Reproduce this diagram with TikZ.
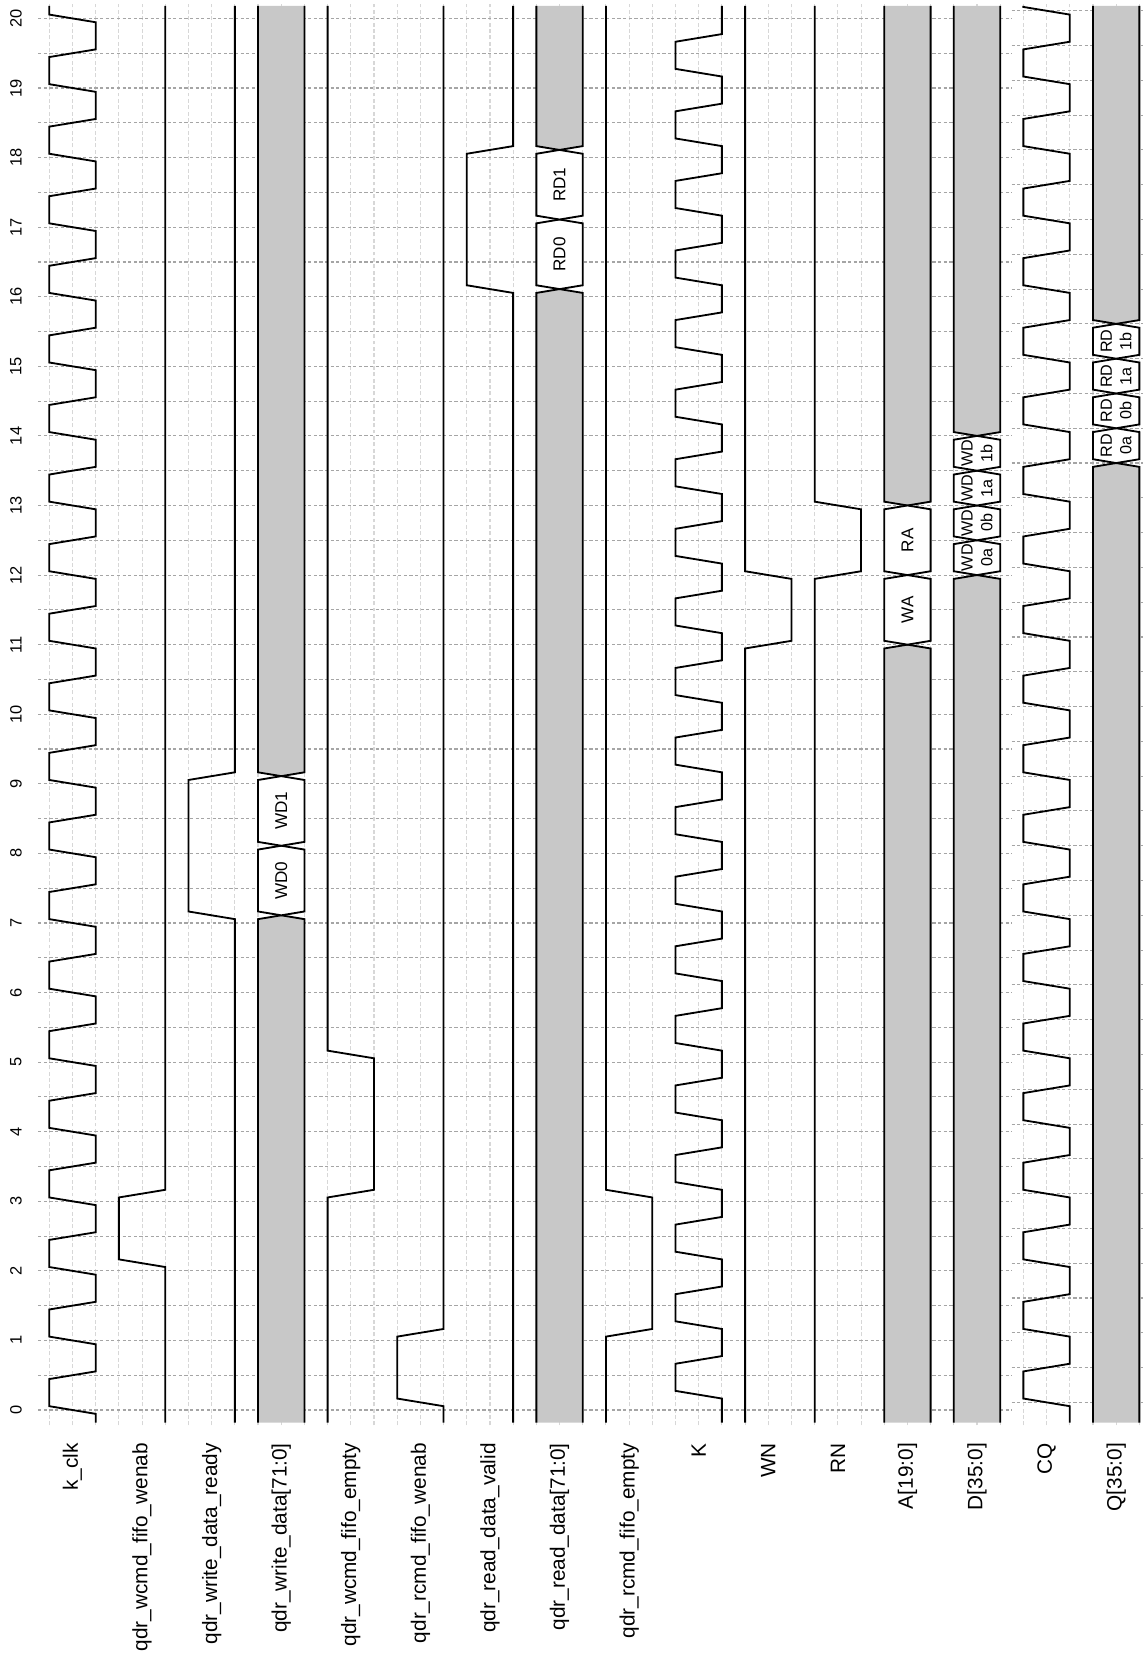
\documentclass[tikz,border=0pt]{standalone}
\usepackage{fontspec}
\setmainfont{Liberation Sans}
\definecolor{busgray}{RGB}{200,200,200}
\begin{document}
\begin{tikzpicture}[
        wave/.style={
            line width=0.75pt,
            draw=black
        },
        idle/.style={
            fill=busgray
        },
        hgrid/.style={
            draw={rgb,255:red,165; green,165; blue,165},
            line width=0.45pt,
            dash pattern=on 1.3pt off 1pt
        },
        vgrid/.style={
            draw={rgb,255:red,215; green,215; blue,215},
            line width=0.45pt,
            dash pattern=on 1.6pt off 1pt
        },
        signame/.style={
            rotate=90,
            anchor=east,
            inner sep=0pt,
            font=\fontsize{8.5}{10}\selectfont
        },
        timelabel/.style={
            rotate=90,
            inner sep=0pt,
            font=\fontsize{6.7}{8}\selectfont
        },
        buslabel/.style={
            rotate=90,
            inner sep=0pt,
            align=center,
            font=\fontsize{7}{8}\selectfont
        },
        halflabel/.style={
            rotate=90,
            inner sep=0pt,
            align=center,
            font=\fontsize{6.6}{8}\selectfont
        }
    ]
        \useasboundingbox (-0.7085,-3.564) rectangle (15.7185,20.265);

        % Grid
        \foreach \x in {0,...,47}
            \draw[vgrid] (\x/3,-0.22) -- (\x/3,20.23);
        \foreach \t in {0,0.5,...,20} {
            \draw[hgrid] (-0.16,\t) -- (13.83,\t);
            \draw[hgrid] (13.83,\t+0.11) -- (15.72,\t+0.11);
        }

        % Time markers
        \foreach \t in {0,...,20}
            \node[timelabel] (time\t) at (-0.48,\t) {\t};

        % Signal names
        \foreach \i/\nm/\txt in {0/kclk/k\_clk, 1/wenab/qdr\_wcmd\_fifo\_wenab,
            2/wready/qdr\_write\_data\_ready, 3/wdata/qdr\_write\_data[71:0],
            4/wempty/qdr\_wcmd\_fifo\_empty, 5/renab/qdr\_rcmd\_fifo\_wenab,
            6/rvalid/qdr\_read\_data\_valid, 7/rdata/qdr\_read\_data[71:0],
            8/rempty/qdr\_rcmd\_fifo\_empty, 9/K/K, 10/WN/WN, 11/RN/RN,
            12/A/A[19:0], 13/D/D[35:0], 14/CQ/CQ, 15/Q/Q[35:0]}
            \node[signame] (sig-\nm) at (\i+1/3,-0.47) {\txt};

        % ============== Controller side ==============
        % k_clk
        \draw[wave] (2/3,-0.18) foreach \k in {0,...,19} {
            -- (2/3,\k-0.055) -- (0,\k+0.055) -- (0,\k+0.445) -- (2/3,\k+0.555)
        } -- (2/3,19.945) -- (0,20.055) -- (0,20.18);

        % qdr_wcmd_fifo_wenab
        \draw[wave] (5/3,-0.18) -- (5/3,2.055) -- (1,2.165) -- (1,3.055) -- (5/3,3.165) -- (5/3,20.18);

        % qdr_write_data_ready
        \draw[wave] (8/3,-0.18) -- (8/3,7.055) -- (2,7.165) -- (2,9.055) -- (8/3,9.165) -- (8/3,20.18);

        % qdr_write_data[71:0]
        \begin{scope}[xshift=3cm]
            \fill[idle] (0,-0.18) -- (0,7.055) -- (1/3,7.11) -- (2/3,7.055) -- (2/3,-0.18) -- cycle;
            \fill[idle] (0,20.18) -- (0,9.165) -- (1/3,9.11) -- (2/3,9.165) -- (2/3,20.18) -- cycle;
            \draw[wave] (0,-0.18) -- (0,7.055) -- (1/3,7.11) -- (2/3,7.055) -- (2/3,-0.18);
            \draw[wave] (0,20.18) -- (0,9.165) -- (1/3,9.11) -- (2/3,9.165) -- (2/3,20.18);
            \foreach \a/\b/\nm in {7.11/8.11/0, 8.11/9.11/1}
                \draw[wave, fill=white] (1/3,\a) -- (0,\a+0.055) -- (0,\b-0.055) -- (1/3,\b)
                    -- (2/3,\b-0.055) -- (2/3,\a+0.055) -- cycle
                    node[buslabel] (wd\nm) at (1/3,{(\a+\b)/2}) {WD\nm};
        \end{scope}

        % qdr_wcmd_fifo_empty
        \draw[wave] (4,-0.18) -- (4,3.055) -- (14/3,3.165) -- (14/3,5.055) -- (4,5.165) -- (4,20.18);

        % qdr_rcmd_fifo_wenab
        \draw[wave] (17/3,-0.18) -- (17/3,0.055) -- (5,0.165) -- (5,1.055) -- (17/3,1.165) -- (17/3,20.18);

        % qdr_read_data_valid
        \draw[wave] (20/3,-0.18) -- (20/3,16.055) -- (6,16.165) -- (6,18.055) -- (20/3,18.165) -- (20/3,20.18);

        % qdr_read_data[71:0]
        \begin{scope}[xshift=7cm]
            \fill[idle] (0,-0.18) -- (0,16.055) -- (1/3,16.11) -- (2/3,16.055) -- (2/3,-0.18) -- cycle;
            \fill[idle] (0,20.18) -- (0,18.165) -- (1/3,18.11) -- (2/3,18.165) -- (2/3,20.18) -- cycle;
            \draw[wave] (0,-0.18) -- (0,16.055) -- (1/3,16.11) -- (2/3,16.055) -- (2/3,-0.18);
            \draw[wave] (0,20.18) -- (0,18.165) -- (1/3,18.11) -- (2/3,18.165) -- (2/3,20.18);
            \foreach \a/\b/\nm in {16.11/17.11/0, 17.11/18.11/1}
                \draw[wave, fill=white] (1/3,\a) -- (0,\a+0.055) -- (0,\b-0.055) -- (1/3,\b)
                    -- (2/3,\b-0.055) -- (2/3,\a+0.055) -- cycle
                    node[buslabel] (rd\nm) at (1/3,{(\a+\b)/2}) {RD\nm};
        \end{scope}

        % qdr_rcmd_fifo_empty
        \draw[wave] (8,-0.18) -- (8,1.055) -- (26/3,1.165) -- (26/3,3.055) -- (8,3.165) -- (8,20.18);

        % ============== Memory side ==============
        % K
        \draw[wave] (29/3,-0.18) foreach \k in {0,...,19} {
            -- (29/3,\k+0.165) -- (9,\k+0.275) -- (9,\k+0.665) -- (29/3,\k+0.775)
        } -- (29/3,20.18);

        % WN
        \draw[wave] (10,-0.18) -- (10,10.945) -- (32/3,11.055) -- (32/3,11.945) -- (10,12.055) -- (10,20.18);

        % RN
        \draw[wave] (11,-0.18) -- (11,11.945) -- (35/3,12.055) -- (35/3,12.945) -- (11,13.055) -- (11,20.18);

        % A[19:0]
        \begin{scope}[xshift=12cm]
            \fill[idle] (0,-0.18) -- (0,10.945) -- (1/3,11) -- (2/3,10.945) -- (2/3,-0.18) -- cycle;
            \fill[idle] (0,20.18) -- (0,13.055) -- (1/3,13) -- (2/3,13.055) -- (2/3,20.18) -- cycle;
            \draw[wave] (0,-0.18) -- (0,10.945) -- (1/3,11) -- (2/3,10.945) -- (2/3,-0.18);
            \draw[wave] (0,20.18) -- (0,13.055) -- (1/3,13) -- (2/3,13.055) -- (2/3,20.18);
            \foreach \a/\b/\nm in {11/12/WA, 12/13/RA}
                \draw[wave, fill=white] (1/3,\a) -- (0,\a+0.055) -- (0,\b-0.055) -- (1/3,\b)
                    -- (2/3,\b-0.055) -- (2/3,\a+0.055) -- cycle
                    node[buslabel] (addr\nm) at (1/3,{(\a+\b)/2}) {\nm};
        \end{scope}

        % D[35:0]
        \begin{scope}[xshift=13cm]
            \fill[idle] (0,-0.18) -- (0,11.945) -- (1/3,12) -- (2/3,11.945) -- (2/3,-0.18) -- cycle;
            \fill[idle] (0,20.18) -- (0,14.055) -- (1/3,14) -- (2/3,14.055) -- (2/3,20.18) -- cycle;
            \draw[wave] (0,-0.18) -- (0,11.945) -- (1/3,12) -- (2/3,11.945) -- (2/3,-0.18);
            \draw[wave] (0,20.18) -- (0,14.055) -- (1/3,14) -- (2/3,14.055) -- (2/3,20.18);
            \foreach \a/\b/\nm in {12/12.5/0a, 12.5/13/0b, 13/13.5/1a, 13.5/14/1b}
                \draw[wave, fill=white] (1/3,\a) -- (0,\a+0.055) -- (0,\b-0.055) -- (1/3,\b)
                    -- (2/3,\b-0.055) -- (2/3,\a+0.055) -- cycle
                    node[halflabel] (wd\nm) at (1/3,{(\a+\b)/2}) {WD\\\nm};
        \end{scope}

        % CQ
        \draw[wave] (44/3,-0.18) foreach \k in {0,...,19} {
            -- (44/3,\k+0.055) -- (14,\k+0.165) -- (14,\k+0.555) -- (44/3,\k+0.665)
        } -- (44/3,20.055) -- (14,20.165) -- (14,20.18);

        % Q[35:0]
        \begin{scope}[xshift=15cm]
            \fill[idle] (0,-0.18) -- (0,13.555) -- (1/3,13.61) -- (2/3,13.555) -- (2/3,-0.18) -- cycle;
            \fill[idle] (0,20.18) -- (0,15.665) -- (1/3,15.61) -- (2/3,15.665) -- (2/3,20.18) -- cycle;
            \draw[wave] (0,-0.18) -- (0,13.555) -- (1/3,13.61) -- (2/3,13.555) -- (2/3,-0.18);
            \draw[wave] (0,20.18) -- (0,15.665) -- (1/3,15.61) -- (2/3,15.665) -- (2/3,20.18);
            \foreach \a/\b/\nm in {13.61/14.11/0a, 14.11/14.61/0b, 14.61/15.11/1a, 15.11/15.61/1b}
                \draw[wave, fill=white] (1/3,\a) -- (0,\a+0.055) -- (0,\b-0.055) -- (1/3,\b)
                    -- (2/3,\b-0.055) -- (2/3,\a+0.055) -- cycle
                    node[halflabel] (rd\nm) at (1/3,{(\a+\b)/2}) {RD\\\nm};
        \end{scope}
    \end{tikzpicture}
\end{document}
